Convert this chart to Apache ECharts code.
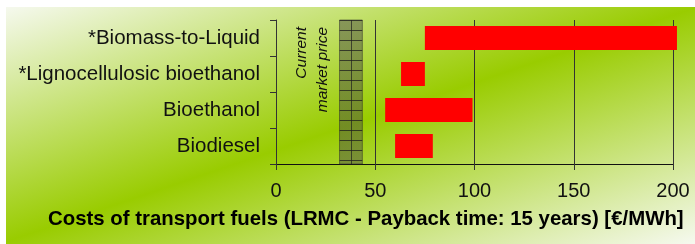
<!DOCTYPE html>
<html>
<head>
<meta charset="utf-8">
<script src="https://cdn.jsdelivr.net/npm/echarts@6/dist/echarts.min.js"></script>
<style>html,body{margin:0;padding:0;background:#fff}#c{width:695px;height:244px}</style>
</head>
<body>
<div id="c"></div>
<script>
var categories = ['*Biomass-to-Liquid', '*Lignocellulosic bioethanol', 'Bioethanol', 'Biodiesel'];
var costLow = [75, 63, 55, 60];
var costHigh = [202, 75, 99, 79];
var marketPrice = [32, 43.5];
var xTicks = [0, 50, 100, 150, 200];
var axisTitle = 'Costs of transport fuels (LRMC - Payback time: 15 years) [€/MWh]';
var bandLabel = 'Current\nmarket price';

var FONT = '"Liberation Sans", Arial, sans-serif';

// hatch pattern (horizontal lines) for the market price band
var pc = document.createElement('canvas');
pc.width = 4; pc.height = 10;
var pctx = pc.getContext('2d');
pctx.fillStyle = 'rgba(75,78,70,0.5)';
pctx.fillRect(0, 0, 4, 10);
pctx.fillStyle = 'rgba(30,30,30,0.75)';
pctx.fillRect(0, 0, 4, 1);

var chart = echarts.init(document.getElementById('c'), null, {renderer: 'canvas'});
var lengths = costHigh.map(function (h, i) { return h - costLow[i]; });

chart.setOption({
  animation: false,
  backgroundColor: '#ffffff',
  textStyle: {fontFamily: FONT},
  grid: {left: 276, right: 22, top: 20, bottom: 80, containLabel: false},
  title: {
    text: axisTitle,
    left: 48, top: 209, padding: 0,
    textStyle: {fontFamily: FONT, fontWeight: 'bold', fontSize: 20.4, color: '#000'}
  },
  graphic: [
    {
      type: 'rect', z: -100, silent: true,
      shape: {x: 6, y: 7, width: 689, height: 237},
      style: {
        fill: new echarts.graphic.LinearGradient(278, -87, 422, 337, [
          {offset: 0, color: '#f6f9f0'},
          {offset: 0.5, color: '#99cc00'},
          {offset: 1, color: '#f6f9f0'}
        ], true)
      }
    },
    {
      type: 'text', z: 50, silent: true,
      x: 312, y: 27, rotation: Math.PI / 2,
      style: {
        text: bandLabel, fontFamily: FONT, fontStyle: 'italic', fontSize: 15.5,
        lineHeight: 21, fill: '#111', align: 'right', verticalAlign: 'middle'
      }
    }
  ],
  xAxis: {
    type: 'value', min: 0, max: 200, interval: 50,
    axisLine: {show: true, lineStyle: {color: '#111', width: 1}},
    axisTick: {show: true, length: 6, lineStyle: {color: '#333'}},
    axisLabel: {fontFamily: FONT, fontSize: 20, color: '#111', margin: 17,
      formatter: function (v) { return xTicks.indexOf(v) >= 0 ? String(v) : ''; }},
    splitLine: {show: true, lineStyle: {color: '#333', width: 1}}
  },
  yAxis: {
    type: 'category', data: categories, inverse: true,
    axisLine: {show: true, lineStyle: {color: '#333', width: 1}},
    axisTick: {show: true, length: 6, lineStyle: {color: '#333'}},
    axisLabel: {fontFamily: FONT, fontSize: 20.5, color: '#111', margin: 16},
    splitLine: {show: false}
  },
  series: [
    {
      type: 'bar', stack: 'c', data: costLow, barWidth: 24,
      itemStyle: {color: 'transparent'}, silent: true,
      markArea: {
        silent: true,
        itemStyle: {color: {image: pc, repeat: 'repeat'}, borderColor: 'rgba(40,40,40,0.5)', borderWidth: 1},
        data: [[{xAxis: marketPrice[0]}, {xAxis: marketPrice[1]}]]
      },
      markLine: {
        silent: true, symbol: 'none', label: {show: false},
        lineStyle: {color: 'rgba(30,30,30,0.7)', width: 1, type: 'solid'},
        data: [{xAxis: (marketPrice[0] + marketPrice[1]) / 2}]
      }
    },
    {
      type: 'bar', stack: 'c', data: lengths, barWidth: 24, clip: false,
      itemStyle: {color: '#ff0000'}
    }
  ]
});
</script>
</body>
</html>
